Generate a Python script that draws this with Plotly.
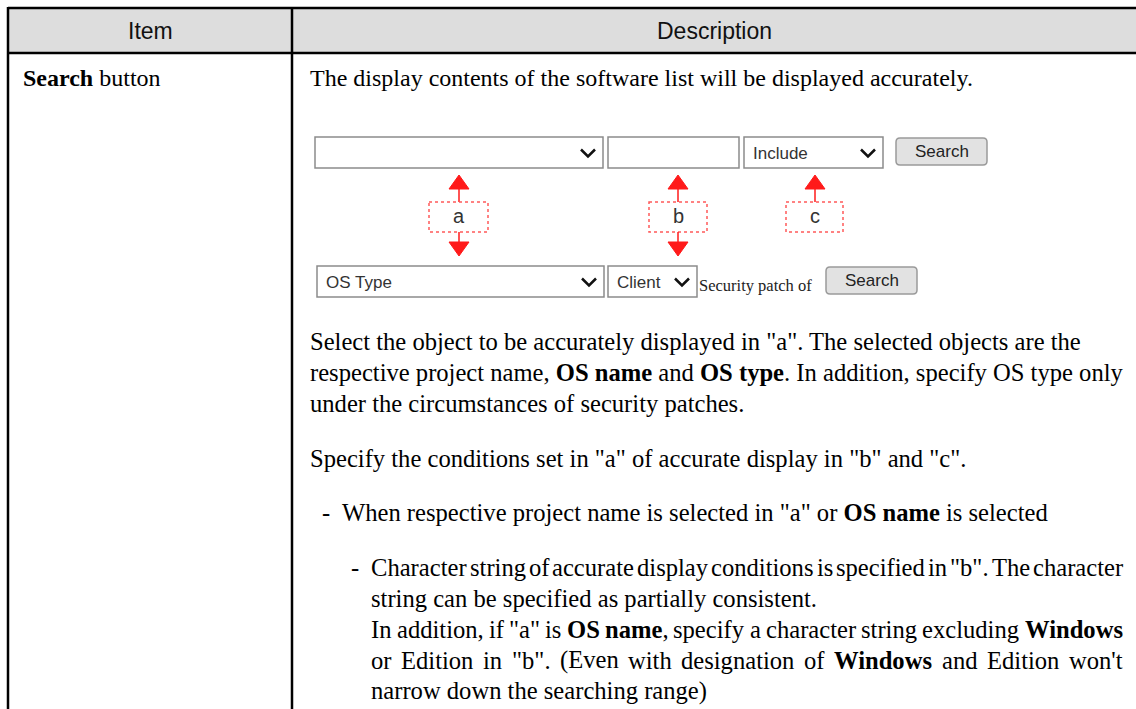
import plotly.graph_objects as go

# ---------------- content ----------------
HEADERS = ["Item", "Description"]
ITEM_LABEL = "**Search** button"

# (indent level, bullet?, text, justified?, y)
DESC_LINES = [
    (0, False, "The display contents of the software list will be displayed accurately.", False, 78),
    (0, False, 'Select the object to be accurately displayed in "a". The selected objects are the', False, 341),
    (0, False, "respective project name, **OS name** and **OS type**. In addition, specify OS type only", False, 372),
    (0, False, "under the circumstances of security patches.", False, 403),
    (0, False, 'Specify the conditions set in "a" of accurate display in "b" and "c".', False, 458),
    (1, True, 'When respective project name is selected in "a" or **OS name** is selected', False, 512),
    (2, True, 'Character string of accurate display conditions is specified in "b". The character', True, 567),
    (2, False, "string can be specified as partially consistent.", False, 598),
    (2, False, 'In addition, if "a" is **OS name**, specify a character string excluding **Windows**', True, 629),
    (2, False, 'or Edition in "b". (Even with designation of **Windows** and Edition won\'t', True, 660),
    (2, False, "narrow down the searching range)", False, 691),
]

ROW1_LABELS = ["", "", "Include"]
ROW2_LABELS = ["OS Type", "Client"]
BUTTON_LABEL = "Search"
SECURITY_TEXT = "Security patch of"
CALLOUT_LABELS = ["a", "b", "c"]

# ---------------- metrics (Times / Liberation Serif, 1/1000 em) ----------------
TR = {' ': 250, 'a': 444, 'b': 500, 'c': 444, 'd': 500, 'e': 444, 'f': 333, 'g': 500, 'h': 500,
      'i': 278, 'j': 278, 'k': 500, 'l': 278, 'm': 778, 'n': 500, 'o': 500, 'p': 500, 'q': 500,
      'r': 333, 's': 389, 't': 278, 'u': 500, 'v': 500, 'w': 722, 'x': 500, 'y': 500, 'z': 444,
      'C': 667, 'T': 611, 'I': 333, 'E': 611, 'W': 944, 'O': 722, 'S': 556,
      '"': 408, "'": 180, '(': 333, ')': 333, ',': 250, '.': 250, '-': 333}
TB = {' ': 250, 'a': 500, 'b': 556, 'c': 444, 'd': 556, 'e': 444, 'f': 333, 'g': 500, 'h': 556,
      'i': 278, 'k': 556, 'l': 278, 'm': 833, 'n': 556, 'o': 500, 'p': 556, 'r': 444, 's': 389,
      't': 333, 'u': 556, 'w': 722, 'y': 500, 'O': 778, 'S': 556, 'W': 1000, ',': 250, '.': 250}


def parse_words(s):
    """Split '**bold**' markup into words, each a list of (text, bold) segments."""
    chars = []
    for i, part in enumerate(s.split("**")):
        chars += [(c, i % 2 == 1) for c in part]
    words, cur = [], []
    for c, b in chars + [(" ", False)]:
        if c == " ":
            if cur:
                segs = []
                for ch, bb in cur:
                    if segs and segs[-1][1] == bb:
                        segs[-1][0] += ch
                    else:
                        segs.append([ch, bb])
                words.append(segs)
            cur = []
        else:
            cur.append((c, b))
    return words


def word_width(segs, size):
    w = 0
    for t, b in segs:
        tab = TB if b else TR
        w += sum(tab.get(ch, 500) for ch in t)
    return w * size / 1000.0


def word_markup(segs):
    return "".join(f"<b>{t}</b>" if b else t for t, b in segs)


def markup(s):
    parts = s.split("**")
    return "".join(f"<b>{p}</b>" if i % 2 else p for i, p in enumerate(parts))


# ---------------- figure helpers ----------------
W, H = 1136, 709
shapes, anns = [], []
SERIF = "Liberation Serif, Times New Roman, serif"
SANS = "Liberation Sans, Arial, sans-serif"


def add_line(x0, y0, x1, y1, color="#000", width=2.5, dash="solid"):
    shapes.append(dict(type="line", xref="x", yref="y", x0=x0, y0=y0, x1=x1, y1=y1,
                       line=dict(color=color, width=width, dash=dash)))


def add_rect(x0, y0, x1, y1, fill="white", color="#888", width=1.5, dash="solid"):
    shapes.append(dict(type="rect", xref="x", yref="y", x0=x0, y0=y0, x1=x1, y1=y1,
                       fillcolor=fill, line=dict(color=color, width=width, dash=dash)))


def add_path(path, fill=None, color="#000", width=2.5):
    d = dict(type="path", xref="x", yref="y", path=path, line=dict(color=color, width=width))
    if fill:
        d["fillcolor"] = fill
    shapes.append(d)


def add_text(x, y, s, size=24, family=SERIF, color="#000", xanchor="left"):
    anns.append(dict(x=x, y=y, xref="x", yref="y", text=s, showarrow=False,
                     xanchor=xanchor, yanchor="middle", borderpad=0,
                     font=dict(family=family, size=size, color=color)))


# ---------------- table ----------------
add_rect(8, 8, W + 2, 53, fill="#dddddd", color="rgba(0,0,0,0)", width=0)
add_line(8, 8, W + 2, 8)
add_line(8, 53, W + 2, 53)
add_line(8, 7, 8, H + 2)
add_line(292, 7, 292, H + 2)
add_text(150, 31, HEADERS[0], size=23, family=SANS, color="#111", xanchor="center")
add_text(714, 31, HEADERS[1], size=23, family=SANS, color="#111", xanchor="center")
add_text(22, 78, markup(ITEM_LABEL), size=24)

# ---------------- description text ----------------
TEXT_X = [309, 341, 370]
DASH_X = [None, 321, 350]
RIGHT_X = 1122
for k, (level, bullet, txt, just, y) in enumerate(DESC_LINES):
    size = 24 if k == 0 else 24.6
    x0 = TEXT_X[level]
    if bullet:
        add_text(DASH_X[level], y, "-", size=size)
    if not just:
        add_text(x0, y, markup(txt), size=size)
    else:
        words = parse_words(txt)
        ws = [word_width(wd, size) for wd in words]
        gap = (RIGHT_X - x0 - sum(ws)) / (len(words) - 1)
        x = x0
        for wd, w in zip(words, ws):
            add_text(x, y, word_markup(wd), size=size)
            x += w + gap

# ---------------- screenshot widgets ----------------
BOX_C = "#8c8c8c"


def chevron(cx, cy):
    add_path(f"M {cx-7},{cy-3} L {cx},{cy+4} L {cx+7},{cy-3}", color="#111", width=2.5)


def dropdown(x0, x1, y0, y1, label=""):
    add_rect(x0, y0, x1, y1, fill="white", color=BOX_C, width=1.5)
    chevron(x1 - 15, (y0 + y1) / 2)
    if label:
        add_text(x0 + 8, (y0 + y1) / 2 + 1, label, size=17, family=SANS, color="#333")


def button(x0, x1, y0, y1, label):
    r = 4
    p = (f"M {x0+r},{y0} L {x1-r},{y0} Q {x1},{y0} {x1},{y0+r} L {x1},{y1-r} "
         f"Q {x1},{y1} {x1-r},{y1} L {x0+r},{y1} Q {x0},{y1} {x0},{y1-r} "
         f"L {x0},{y0+r} Q {x0},{y0} {x0+r},{y0} Z")
    add_path(p, fill="#e2e2e2", color="#9a9a9a", width=1.5)
    add_text((x0 + x1) / 2, (y0 + y1) / 2, label, size=17, family=SANS, color="#222", xanchor="center")


# row 1
dropdown(315, 603, 137, 168, ROW1_LABELS[0])
add_rect(608, 137, 739, 168, fill="white", color=BOX_C, width=1.5)
dropdown(744, 883, 137, 168, ROW1_LABELS[2])
button(896, 987, 138, 165, BUTTON_LABEL)
# row 2
dropdown(317, 604, 266, 297, ROW2_LABELS[0])
dropdown(608, 697, 266, 297, ROW2_LABELS[1])
add_text(698, 285, SECURITY_TEXT, size=16.5, family=SERIF, color="#222")
button(826, 917, 267, 294, BUTTON_LABEL)

# callouts
RED = "#ff1a1a"


def callout(cx, bx0, bx1, label, down=True):
    add_path(f"M {cx-10},{189} L {cx},{175} L {cx+10},{189} Z", fill=RED, color=RED, width=1)
    add_line(cx, 189, cx, 202, color=RED, width=1.5)
    add_rect(bx0, 202, bx1, 232, fill="white", color="#ff5a5a", width=1.5, dash="dot")
    add_text((bx0 + bx1) / 2, 216, label, size=20, family=SANS, color="#333", xanchor="center")
    if down:
        add_line(cx, 232, cx, 242, color=RED, width=1.5)
        add_path(f"M {cx-10},{242} L {cx+10},{242} L {cx},{256} Z", fill=RED, color=RED, width=1)


callout(459, 429, 488, CALLOUT_LABELS[0], True)
callout(678, 649, 707, CALLOUT_LABELS[1], True)
callout(815, 786, 843, CALLOUT_LABELS[2], False)

fig = go.Figure()
fig.update_layout(
    width=W, height=H, margin=dict(l=0, r=0, t=0, b=0),
    paper_bgcolor="white", plot_bgcolor="white",
    xaxis=dict(range=[0, W], visible=False, fixedrange=True),
    yaxis=dict(range=[H, 0], visible=False, fixedrange=True),
    shapes=shapes, annotations=anns, showlegend=False,
)
fig.write_html("out.html", config={"displayModeBar": False},
               post_script="document.body.style.margin='0';document.body.style.overflow='hidden';")
